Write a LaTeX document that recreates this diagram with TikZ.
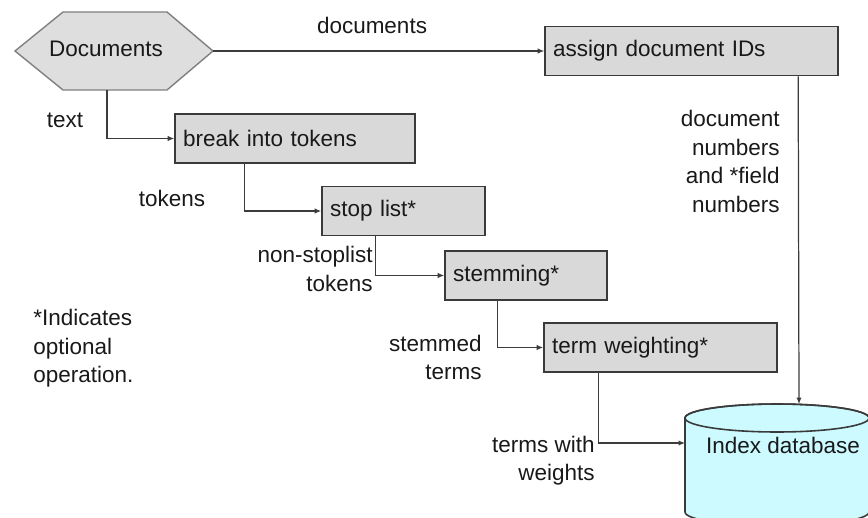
\documentclass[tikz,border=0pt]{standalone}
\usepackage{fontspec}
\setmainfont{Liberation Sans}
\usetikzlibrary{arrows.meta}

\definecolor{boxfill}{RGB}{217,217,217}
\definecolor{boxline}{RGB}{58,58,58}
\definecolor{hexfill}{RGB}{222,222,222}
\definecolor{hexline}{RGB}{128,128,128}
\definecolor{dbfill}{RGB}{204,250,255}
\definecolor{wire}{RGB}{60,60,60}

\begin{document}
\begin{tikzpicture}[x=0.02cm, y=-0.02cm,
    font=\fontsize{12.8pt}{16.2pt}\selectfont, text=black!90,
    stepbox/.style={draw=boxline, fill=boxfill, line width=0.9pt, minimum height=0.98cm, inner xsep=0.16cm, align=left, text width=#1},
    flow/.style={draw=wire, line width=0.7pt, -{Latex[length=1.3mm,width=1.1mm]}},
    lbl/.style={inner sep=0pt}]
        \useasboundingbox (0,0) rectangle (868,517);
        \clip (0,0) rectangle (868,517);

        % documents hexagon
        \filldraw[draw=hexline, fill=hexfill, line width=0.8pt] (15,51) -- (63,12) -- (167,12) -- (213,51) -- (167,90) -- (63,90) -- cycle;
        \node[lbl] (docs) at (106,49) {Documents};
        \coordinate (docstip) at (213,51);
        \coordinate (docsfoot) at (107,90);

        % boxes
        \node[stepbox=5.54cm] (ids) at (691.5,51) {assign document IDs};
        \node[stepbox=4.48cm] (tokens) at (295,138.5) {break into tokens};
        \node[stepbox=2.94cm] (stop) at (403.5,211) {stop list*};
        \node[stepbox=2.92cm] (stem) at (526,275.5) {stemming*};
        \node[stepbox=4.34cm] (weight) at (660.5,347.5) {term weighting*};

        % index database
        \filldraw[draw=boxline, fill=dbfill, line width=0.9pt] (685,418) -- (685,512)
            arc[start angle=180, end angle=360, x radius=1.84cm, y radius=0.28cm]
            -- (869,418) arc[start angle=0, end angle=180, x radius=1.84cm, y radius=0.28cm] -- cycle;
        \draw[draw=boxline, line width=0.9pt] (777,418) ellipse[x radius=1.84cm, y radius=0.28cm];
        \coordinate (dbtop) at (799,404);
        \coordinate (dbside) at (685,443);
        \node[lbl] (dbtext) at (783,445) {Index database};

        % connectors
        \draw[flow] (docstip) -- (ids.west);
        \draw[flow] (docsfoot) |- (tokens.west);
        \draw[flow] ([xshift=1.4cm]tokens.south west) |- (stop.west);
        \draw[flow] ([xshift=1.08cm]stop.south west) |- (stem.west);
        \draw[flow] ([xshift=1.06cm]stem.south west) |- (weight.west);
        \draw[flow] ([xshift=1.1cm]weight.south west) |- (dbside);
        \draw[flow] ([xshift=5.08cm]ids.south west) -- (dbtop);

        % labels
        \node[lbl] (ldocs) at (372,25) {documents};
        \node[lbl] (ltext) at (65,120) {text};
        \node[lbl] (ltokens) at (172,198) {tokens};
        \node[lbl, anchor=east, align=right] (lnonstop) at (373,269) {non-stoplist\\tokens};
        \node[lbl, anchor=east, align=right] (lstemmed) at (482,357.5) {stemmed\\terms};
        \node[lbl, anchor=east, align=right] (lweights) at (595,460.5) {terms with\\weights};
        \node[lbl, anchor=east, align=right] (lnumbers) at (780,161.5) {document\\numbers\\and *field\\numbers};
        \node[lbl, anchor=west, align=left] (lnote) at (33,348.5) {*Indicates\\optional\\operation.};
      \end{tikzpicture}
\end{document}
